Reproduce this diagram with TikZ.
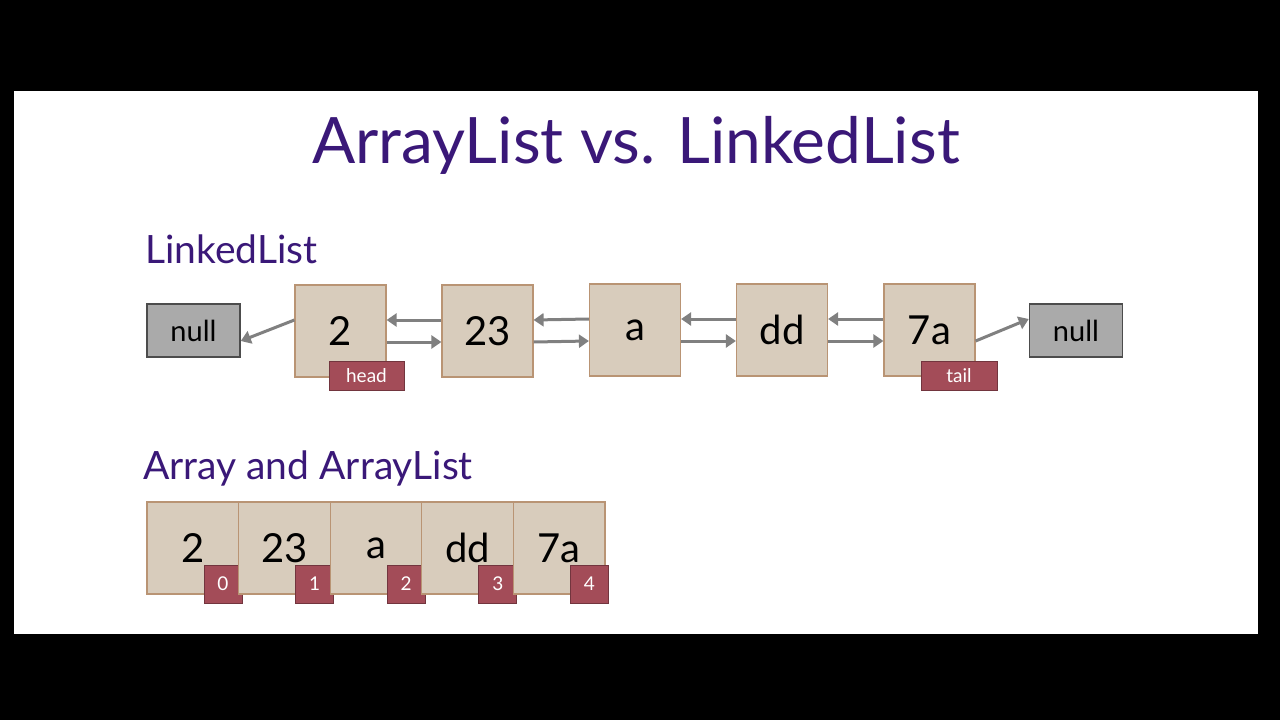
\documentclass[tikz,border=0pt]{standalone}
\usepackage{fontspec}
\setmainfont{Lato}
\usetikzlibrary{arrows.meta}
\definecolor{ttl}{HTML}{3A1878}
\definecolor{beige}{HTML}{D8CCBC}
\definecolor{bord}{HTML}{B99474}
\definecolor{tagc}{HTML}{A34C58}
\definecolor{grayf}{HTML}{AAAAAA}
\definecolor{arr}{HTML}{808080}
\tikzset{
 cell/.style={draw=bord,fill=beige,line width=1.2pt,minimum width=91pt,minimum height=92pt,inner sep=0pt,font=\fontsize{40}{40}\selectfont},
 nullbox/.style={draw=black!70,fill=grayf,line width=1.5pt,minimum width=93pt,minimum height=53pt,inner sep=0pt,font=\fontsize{29}{29}\selectfont},
 tagbox/.style={draw=tagc!70!black,fill=tagc,text=white,line width=1pt,inner sep=0pt,font=\fontsize{19}{19}\selectfont},
 ptr/.style={draw=arr,line width=3pt,-{Triangle[length=10pt,width=13pt]}},
}
\begin{document}
\begin{tikzpicture}[x=1pt,y=-1pt]
\fill[black] (0,0) rectangle (1280,720);
\fill[white] (14,91) rectangle (1258,634);
\node[text=ttl,font=\fontsize{64}{64}\selectfont] (title) at (636,145) {ArrayList vs. LinkedList};
\node[text=ttl,font=\fontsize{39}{39}\selectfont,anchor=west,inner sep=0pt] (ll) at (145,249) {LinkedList};
\node[text=ttl,font=\fontsize{39}{39}\selectfont,anchor=west,inner sep=0pt] (al) at (143,468) {Array and ArrayList};
% linked list
\node[nullbox] (n0) at (193.5,330.5) {null};
\node[cell] (c1) at (340.5,331) {2};
\node[cell] (c2) at (487.5,331) {23};
\node[cell] (c3) at (635,330) {a};
\node[cell] (c4) at (782,330) {dd};
\node[cell] (c5) at (929.5,330) {7a};
\node[nullbox] (n1) at (1076,330.5) {null};
\node[tagbox,minimum width=75pt,minimum height=29pt] (head) at (366.5,375.5) {head};
\node[tagbox,minimum width=76pt,minimum height=29pt] (tail) at (959,375.5) {tail};
\foreach \a/\b in {c1/c2,c2/c3,c3/c4,c4/c5}{
  \draw[ptr] ([yshift=-11pt]\a.east) -- ([yshift=-11pt]\b.west);
  \draw[ptr] ([yshift=11pt]\b.west) -- ([yshift=11pt]\a.east);
}
\draw[ptr] ([yshift=11pt]c1.west) -- (n0.east |- {0,341});
\draw[ptr] ([yshift=-11pt]c5.east) -- (n1.west |- {0,319});
% array
\foreach \v/\i [count=\k from 0] in {2/0,23/1,a/2,dd/3,7a/4}{
  \node[cell,minimum width=91.6pt] (a\k) at ({192.8+91.6*\k},548) {\v};
  \node[tagbox,minimum width=38pt,minimum height=38pt] (i\k) at ({223+91.6*\k},584) {\i};
}
\end{tikzpicture}
\end{document}
